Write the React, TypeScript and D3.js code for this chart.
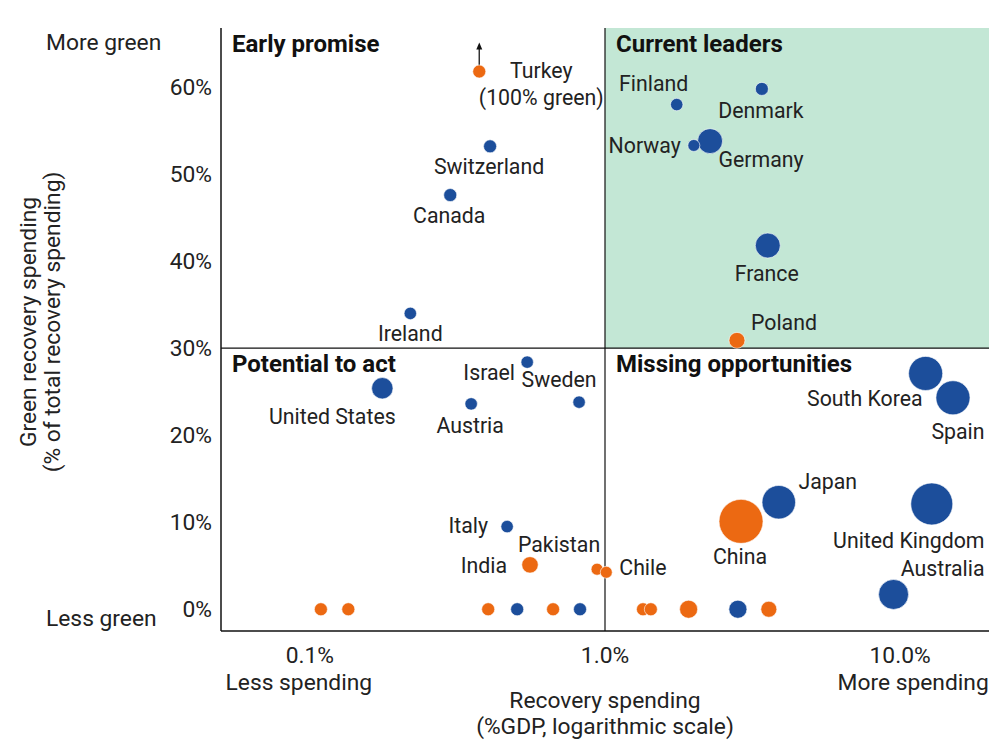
import * as d3 from 'd3';

// Recovery spending as % of GDP (x), green share of recovery spending in % (y),
// bubble size = total recovery spending (rough, USD bn), group = colour
const countries = ['Turkey', 'Switzerland', 'Canada', 'Ireland', 'Finland', 'Denmark', 'Norway', 'Germany',
  'France', 'Poland', 'Israel', 'Sweden', 'United States', 'Austria', 'Italy', 'Pakistan', 'India', 'Chile',
  'China', 'Japan', 'United Kingdom', 'Australia', 'South Korea', 'Spain',
  '', '', '', '', '', '', '', '', '', '', ''];
const spendingGdp = [0.375, 0.408, 0.299, 0.219, 1.75, 3.4, 2.0, 2.27,
  3.56, 2.8, 0.545, 0.817, 0.176, 0.352, 0.466, 0.94, 0.557, 1.01,
  2.89, 3.88, 12.8, 9.5, 12.2, 15.1,
  0.109, 0.135, 0.402, 0.504, 0.667, 0.823, 1.345, 1.43, 1.92, 2.82, 3.59];
const greenShare = [100, 53.2, 47.6, 34.0, 58.0, 59.8, 53.3, 53.8,
  41.8, 30.9, 28.4, 23.8, 25.4, 23.6, 9.5, 4.6, 5.1, 4.25,
  10.1, 12.3, 12.1, 1.7, 27.1, 24.3,
  0, 0, 0, 0, 0, 0, 0, 0, 0, 0, 0];
const totalSpending = [44, 44, 44, 40, 40, 44, 37, 161,
  161, 66, 40, 40, 118, 40, 40, 37, 70, 37,
  500, 290, 455, 232, 300, 300,
  44, 44, 44, 44, 44, 44, 44, 44, 84, 84, 66];
const group = ['e', 'a', 'a', 'a', 'a', 'a', 'a', 'a',
  'a', 'e', 'a', 'a', 'a', 'a', 'a', 'e', 'e', 'e',
  'e', 'a', 'a', 'a', 'a', 'a',
  'e', 'e', 'e', 'a', 'e', 'a', 'e', 'e', 'e', 'a', 'e'];

const xTicks = [0.1, 1, 10];
const xTickLabels = ['0.1%', '1.0%', '10.0%'];
const yTicks = [0, 10, 20, 30, 40, 50, 60];
const greenCap = 61.8; // Turkey is off the chart
const xSplit = 1;
const ySplit = 30;

const quadrants = [
  { name: 'Early promise', x: 'left', y: 'top' },
  { name: 'Current leaders', x: 'right', y: 'top' },
  { name: 'Potential to act', x: 'left', y: 'bottom' },
  { name: 'Missing opportunities', x: 'right', y: 'bottom' },
];

// label placement relative to the dot (px)
const labelPos: Record<string, { dx: number; dy: number; anchor?: string; lines?: string[] }> = {
  'Turkey': { dx: 62, dy: 6, lines: ['Turkey', '(100% green)'] },
  'Switzerland': { dx: -1, dy: 28 },
  'Canada': { dx: -1, dy: 28 },
  'Ireland': { dx: 0, dy: 28 },
  'Finland': { dx: -23, dy: -14 },
  'Denmark': { dx: -1, dy: 29 },
  'Norway': { dx: -13, dy: 8, anchor: 'end' },
  'Germany': { dx: 51, dy: 26 },
  'France': { dx: -1, dy: 35 },
  'Poland': { dx: 47, dy: -10 },
  'Israel': { dx: -38, dy: 18 },
  'Sweden': { dx: -20, dy: -15 },
  'United States': { dx: -50, dy: 36 },
  'Austria': { dx: -1, dy: 29 },
  'Italy': { dx: -19, dy: 6, anchor: 'end' },
  'Pakistan': { dx: -38, dy: -17 },
  'India': { dx: -23, dy: 8, anchor: 'end' },
  'Chile': { dx: 13, dy: 3, anchor: 'start' },
  'China': { dx: -1, dy: 43 },
  'Japan': { dx: 49, dy: -13 },
  'United Kingdom': { dx: -23, dy: 44 },
  'Australia': { dx: 49, dy: -18 },
  'South Korea': { dx: -3, dy: 33, anchor: 'end' },
  'Spain': { dx: 5, dy: 41 },
};

const colors: Record<string, string> = { a: '#1c4e9b', e: '#ec6912' };
const FONT = 'Roboto, "Noto Sans", sans-serif';
const TEXT = '#222';
const AXIS_FS = 22.8;
const LABEL_FS = 21.3;

export default function App() {
  const width = 1003;
  const height = 741;
  const left = 221, right = 989, top = 28, bottom = 631;

  const x = d3.scaleLog().domain([0.05, 20]).range([left, right]);
  const y = d3.scaleLinear().domain([-2.5, 66.8]).range([bottom, top]);
  const r = d3.scaleSqrt().domain([0, d3.max(totalSpending) as number]).range([0, 22]);

  const points = countries.map((name, i) => ({
    name,
    gdp: spendingGdp[i],
    green: greenShare[i],
    size: totalSpending[i],
    group: group[i],
  }));
  // draw big bubbles first so small ones stay visible
  const ordered = [...points].sort((a, b) => b.size - a.size);

  const xs = x(xSplit);
  const ys = y(ySplit);

  return (
    <svg width={width} height={height} style={{ display: 'block', position: 'absolute', left: 0, top: 0 }}
      fontFamily={FONT}>
      <rect x={xs} y={top} width={right - xs} height={ys - top} fill="#c3e7d5" />

      {/* dividers and axes */}
      <line x1={xs} x2={xs} y1={top} y2={bottom} stroke="#111" strokeWidth={1.2} />
      <line x1={left} x2={right} y1={ys} y2={ys} stroke="#111" strokeWidth={1.2} />
      <line x1={left} x2={left} y1={top} y2={bottom} stroke="#111" strokeWidth={1.5} />
      <line x1={left} x2={right} y1={bottom} y2={bottom} stroke="#111" strokeWidth={1.5} />

      {quadrants.map(q => (
        <text key={q.name} x={q.x === 'left' ? left + 11 : xs + 11} y={q.y === 'top' ? top + 24 : ys + 24}
          fontSize={24} fontWeight="bold" fill="#111">{q.name}</text>
      ))}

      {/* y ticks */}
      {yTicks.map(t => (
        <text key={t} x={212} y={y(t)} dy="0.36em" textAnchor="end" fontSize={AXIS_FS} fill={TEXT}>{t}%</text>
      ))}
      <text x={46} y={50} fontSize={AXIS_FS} fill={TEXT}>More green</text>
      <text x={46} y={626} fontSize={AXIS_FS} fill={TEXT}>Less green</text>
      <g transform={`translate(40, 322) rotate(-90)`}>
        <text x={0} y={-4} textAnchor="middle" fontSize={AXIS_FS} fill={TEXT}>Green recovery spending</text>
        <text x={0} y={20} textAnchor="middle" fontSize={AXIS_FS} fill={TEXT}>(% of total recovery spending)</text>
      </g>

      {/* x ticks */}
      {xTicks.map((t, i) => (
        <text key={t} x={x(t)} y={663} textAnchor="middle" fontSize={AXIS_FS} fill={TEXT}>{xTickLabels[i]}</text>
      ))}
      <text x={x(0.1) - 11} y={690} textAnchor="middle" fontSize={AXIS_FS} fill={TEXT}>Less spending</text>
      <text x={x(10) + 13} y={690} textAnchor="middle" fontSize={AXIS_FS} fill={TEXT}>More spending</text>
      <text x={x(1)} y={708} textAnchor="middle" fontSize={AXIS_FS} fill={TEXT}>Recovery spending</text>
      <text x={x(1)} y={734} textAnchor="middle" fontSize={AXIS_FS} fill={TEXT}>(%GDP, logarithmic scale)</text>

      {/* Turkey arrow */}
      {points.filter(p => p.green > greenCap).map(p => (
        <g key={'arrow' + p.name}>
          <line x1={x(p.gdp)} x2={x(p.gdp)} y1={y(greenCap)} y2={y(greenCap) - 24} stroke="#333" strokeWidth={1.5} />
          <path d={`M${x(p.gdp) - 3},${y(greenCap) - 22} L${x(p.gdp)},${y(greenCap) - 29} L${x(p.gdp) + 3},${y(greenCap) - 22} Z`} fill="#111" />
        </g>
      ))}

      {ordered.map((p, i) => (
        <circle key={i} cx={x(p.gdp)} cy={y(Math.min(p.green, greenCap))} r={r(p.size)}
          fill={colors[p.group]} stroke="#fff" strokeWidth={0.6} />
      ))}

      {points.filter(p => p.name).map(p => {
        const pos = labelPos[p.name];
        const px = x(p.gdp) + pos.dx;
        const py = y(Math.min(p.green, greenCap)) + pos.dy;
        const lines = pos.lines ?? [p.name];
        return (
          <text key={'l' + p.name} x={px} y={py} textAnchor={pos.anchor ?? 'middle'} fontSize={LABEL_FS} fill={TEXT}>
            {lines.map((ln, k) => (
              <tspan key={k} x={px} dy={k === 0 ? 0 : 27}>{ln}</tspan>
            ))}
          </text>
        );
      })}
    </svg>
  );
}
